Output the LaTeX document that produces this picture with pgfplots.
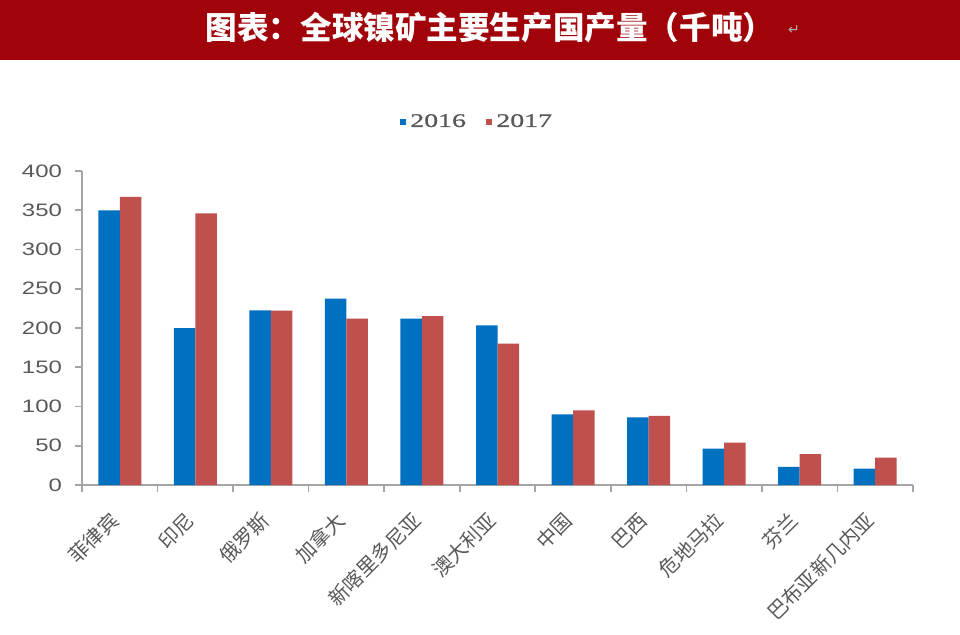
\documentclass[border=0pt]{standalone}
\usepackage{pgfplots}
\pgfplotsset{compat=1.18}
\usepackage{fontspec}
\newfontfamily\cjk{Noto Sans CJK SC}
\newfontfamily\tickfont[FakeStretch=1.33]{Liberation Sans}
\newfontfamily\legfont[FakeStretch=1.45,FakeBold=1]{Liberation Serif}
\newfontfamily\symfont{DejaVu Sans}
\definecolor{bblue}{RGB}{0,112,192}
\definecolor{rred}{RGB}{192,80,77}
\definecolor{titlered}{RGB}{160,4,10}
\definecolor{axgray}{RGB}{165,165,165}
\definecolor{txtgray}{RGB}{89,89,89}
\begin{document}
\begin{tikzpicture}
\path[fill=white] (-41pt,-74.5pt) rectangle (439pt,242.5pt);
\fill[titlered] (-41pt,212.5pt) rectangle (439pt,242.5pt);
\node[text=white, inner sep=0pt, font=\cjk\bfseries\fontsize{15.8pt}{18pt}\selectfont] at (204pt,228.5pt) {图表：全球镍矿主要生产国产量（千吨）};
\node[text=gray!60, inner sep=0pt, font=\symfont\fontsize{7pt}{8pt}\selectfont] at (356pt,227.5pt) {↵};
\begin{axis}[
  at={(0pt,0pt)}, anchor=south west,
  scale only axis, width=415.5pt, height=157pt,
  ymin=0, ymax=400, ytick={0,50,...,400},
  xmin=-0.5, xmax=10.5,
  xtick={-0.5,0.5,...,10.5},
  x tick label as interval=true,
  xticklabels={菲律宾,印尼,俄罗斯,加拿大,新喀里多尼亚,澳大利亚,中国,巴西,危地马拉,芬兰,巴布亚新几内亚},
  axis x line*=bottom, axis y line*=left,
  axis line style={axgray, line width=0.9pt},
  tick align=outside,
  major tick length=3.5pt,
  tick style={axgray, line width=0.8pt},
  /pgf/number format/assume math mode=true,
  yticklabel style={font=\tickfont\fontsize{9pt}{10pt}\selectfont, text=txtgray, xshift=-3pt},
  xticklabel style={font=\cjk\fontsize{10pt}{12pt}\selectfont, text=txtgray, rotate=45, anchor=east},
  xticklabel shift=10pt,
  ybar=0pt, bar width=10.75pt,
  clip=false,
  legend style={at={(0.4765,1.156)}, anchor=center, draw=none, fill=none,
    legend columns=2, font=\legfont\fontsize{9.6pt}{11pt}\selectfont, text=txtgray,
    /tikz/every even column/.append style={column sep=8pt}},
  legend image code/.code={\fill[#1,draw=none] (0pt,-1.6pt) rectangle (3.2pt,1.6pt);},
]
\addplot[fill=bblue, draw=none] coordinates {(0,350) (1,200) (2,222.5) (3,237.5) (4,212) (5,203.5) (6,90) (7,86) (8,46.5) (9,23) (10,21)};
\addplot[fill=rred, draw=none] coordinates {(0,367) (1,346) (2,222) (3,212) (4,215) (5,180) (6,95) (7,88) (8,54) (9,39.5) (10,35)};
\legend{2016,2017}
\end{axis}
\end{tikzpicture}
\end{document}
